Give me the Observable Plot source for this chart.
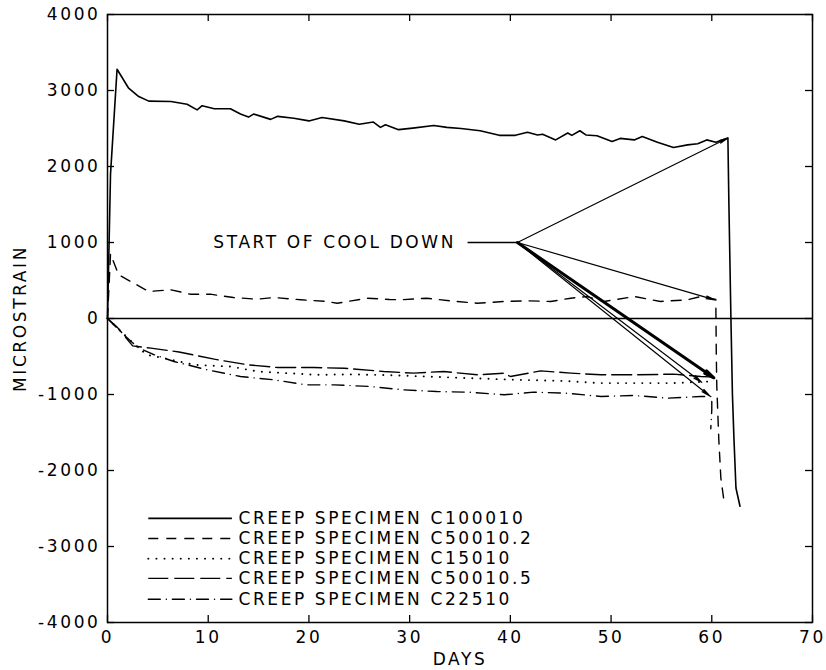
<!DOCTYPE html>
<html>
<head>
<meta charset="utf-8">
<script src="https://cdn.jsdelivr.net/npm/d3@7"></script>
<script src="https://cdn.jsdelivr.net/npm/@observablehq/plot@0.6"></script>
<style>
  html, body { margin: 0; padding: 0; background: #fff; }
  #chart svg text { letter-spacing: 2.6px; }
</style>
</head>
<body>
<div id="chart"></div>
<script>
// Creep strain histories (microstrain vs. days) for five specimens.
const specimens = ["C100010", "C50010.2", "C15010", "C50010.5", "C22510"];

const c100010Days = [0, 0.3, 0.95, 2.1, 3.1, 4.1, 6.3, 7.9, 8.9, 9.4, 10.6, 12.2, 13.2, 14.0, 14.5, 16.2, 16.9, 18.5, 20.0, 21.3, 23.5, 25.0, 26.4, 27.1, 27.6, 28.9, 30.3, 32.4, 33.7, 35.1, 37.0, 38.9, 40.5, 41.7, 42.7, 43.2, 44.5, 45.7, 46.1, 46.9, 47.5, 48.6, 50.1, 50.9, 52.3, 53.1, 54.6, 56.2, 57.6, 58.6, 59.5, 60.4, 61.6, 61.7, 61.9, 62.05, 62.2, 62.4, 62.8];
const c100010Strain = [0, 1900, 3280, 3030, 2920, 2860, 2855, 2820, 2745, 2800, 2760, 2760, 2690, 2650, 2690, 2620, 2660, 2635, 2600, 2645, 2600, 2555, 2585, 2515, 2550, 2485, 2505, 2540, 2515, 2500, 2470, 2410, 2410, 2450, 2415, 2425, 2350, 2440, 2410, 2470, 2415, 2405, 2330, 2370, 2350, 2395, 2320, 2250, 2285, 2300, 2350, 2320, 2375, 1500, 0, -1000, -1575, -2230, -2470];

const c500102Days = [0, 0.3, 1.1, 4.1, 6.3, 8.2, 10.2, 12.5, 14.9, 16.5, 19.2, 21.8, 22.8, 25.8, 28.0, 29.1, 31.7, 34.1, 36.7, 39.4, 41.7, 44.0, 46.0, 47.6, 49.3, 52.3, 54.9, 57.6, 58.9, 60.4, 60.45, 60.5, 60.7, 60.9, 61.2];
const c500102Strain = [0, 850, 575, 355, 378, 320, 320, 276, 254, 276, 246, 224, 201, 267, 250, 246, 267, 232, 201, 224, 232, 224, 267, 289, 224, 289, 224, 246, 289, 250, -500, -900, -1600, -2100, -2390];

const c15010Days = [0, 1.2, 2.6, 3.9, 5.6, 8.6, 12.2, 14.9, 17.8, 20.8, 24.0, 28.0, 32.0, 36.0, 40.7, 45.0, 49.0, 52.3, 56.2, 59.5, 60.1];
const c15010Strain = [0, -150, -330, -478, -522, -609, -632, -697, -719, -741, -735, -745, -765, -785, -807, -820, -850, -850, -850, -830, -840];

const c500105Days = [0, 1.0, 2.5, 4.3, 7.1, 10.6, 13.9, 16.9, 20.5, 23.5, 27.4, 30.4, 33.4, 36.7, 39.4, 40.0, 43.0, 46.0, 49.0, 52.6, 56.2, 58.9, 60.2];
const c500105Strain = [0, -120, -360, -390, -440, -535, -609, -645, -645, -654, -697, -719, -697, -741, -719, -763, -689, -719, -741, -741, -732, -763, -770];

const c22510Days = [0, 1.5, 3.0, 4.5, 6.6, 9.9, 13.2, 16.5, 19.8, 22.5, 26.1, 29.4, 32.7, 36.0, 39.4, 42.3, 45.6, 49.0, 52.3, 55.6, 58.9, 60.0, 60.0, 59.9];
const c22510Strain = [0, -200, -380, -470, -566, -675, -763, -807, -873, -873, -895, -939, -961, -970, -1004, -969, -983, -1026, -1013, -1048, -1026, -1026, -1200, -1450];

// Start of cool down callout: label point and the curve ends the arrows point to.
const coolDownLabel = "START OF COOL DOWN";
const coolDownDay = 40.7;
const coolDownStrain = 1000;
const coolDownLeaderDays = [35.8, 40.7];
const arrowEndDays = [61.6, 60.3, 59.0, 59.8];
const arrowEndStrains = [2375, 245, -840, -1020];
const heavyArrowEndDay = 60.2;
const heavyArrowEndStrain = -780;

// Axis ticks
const xTicks = [0, 10, 20, 30, 40, 50, 60, 70];
const yTicks = [-4000, -3000, -2000, -1000, 0, 1000, 2000, 3000, 4000];
const xDomain = [0, 70];
const yDomain = [-4000, 4000];

// Legend placement (data units) inside the frame
const legendLineDays = [4.1, 12.4];
const legendTextDay = 13.0;
const legendStrains = [-2630, -2895, -3160, -3420, -3695];

// Line styles per specimen
const lineStyles = {
  "C100010":  {strokeWidth: 1.6},
  "C50010.2": {strokeWidth: 1.4, strokeDasharray: "10,8"},
  "C15010":   {strokeWidth: 1.9, strokeDasharray: "0.1,8", strokeLinecap: "round"},
  "C50010.5": {strokeWidth: 1.4, strokeDasharray: "20,6"},
  "C22510":   {strokeWidth: 1.4, strokeDasharray: "12,6,0.1,6", strokeLinecap: "round"}
};

const seriesDays = [c100010Days, c500102Days, c15010Days, c500105Days, c22510Days];
const seriesStrain = [c100010Strain, c500102Strain, c15010Strain, c500105Strain, c22510Strain];

const rows = specimens.flatMap((name, s) =>
  seriesDays[s].map((day, i) => ({name, day, strain: seriesStrain[s][i]})));

const curveMarks = specimens.map(name =>
  Plot.line(rows.filter(d => d.name === name), {x: "day", y: "strain", ...lineStyles[name]}));

const legendMarks = specimens.flatMap((name, i) => [
  Plot.ruleY([legendStrains[i]], {x1: legendLineDays[0], x2: legendLineDays[1], ...lineStyles[name]}),
  Plot.text([`CREEP SPECIMEN ${name}`], {x: legendTextDay, y: legendStrains[i], text: d => d, textAnchor: "start", lineAnchor: "middle"})
]);

const arrows = arrowEndDays.map((d, i) => ({x1: coolDownDay, y1: coolDownStrain, x2: d, y2: arrowEndStrains[i]}));

// Inward tick lengths, in data units (about 7px)
const tickLenY = (yDomain[1] - yDomain[0]) * 7 / 608;
const tickLenX = (xDomain[1] - xDomain[0]) * 7 / 705;

const chart = Plot.plot({
  width: 826,
  height: 670,
  marginTop: 14,
  marginRight: 14,
  marginBottom: 48,
  marginLeft: 107,
  style: {fontFamily: "'DejaVu Sans', sans-serif", fontSize: "17px", color: "#000", background: "#fff"},
  x: {domain: xDomain, ticks: xTicks, tickSize: 0, tickPadding: 8, tickFormat: d => String(d), label: null},
  y: {domain: yDomain, ticks: yTicks, tickSize: 0, tickPadding: 7, tickFormat: d => String(d), label: null},
  marks: [
    Plot.frame({strokeWidth: 1.5}),
    // inward ticks on all four sides
    Plot.ruleX(xTicks, {x: d => d, y1: yDomain[0], y2: yDomain[0] + tickLenY, strokeWidth: 1.3}),
    Plot.ruleX(xTicks, {x: d => d, y1: yDomain[1], y2: yDomain[1] - tickLenY, strokeWidth: 1.3}),
    Plot.ruleY(yTicks, {y: d => d, x1: xDomain[0], x2: xDomain[0] + tickLenX, strokeWidth: 1.3}),
    Plot.ruleY(yTicks, {y: d => d, x1: xDomain[1], x2: xDomain[1] - tickLenX, strokeWidth: 1.3}),
    Plot.ruleY([0], {strokeWidth: 1.3}),
    ...curveMarks,
    // cool-down callout
    Plot.ruleY([coolDownStrain], {x1: coolDownLeaderDays[0], x2: coolDownLeaderDays[1], strokeWidth: 1.3}),
    Plot.text([coolDownLabel], {x: coolDownLeaderDays[0], y: coolDownStrain, text: d => d, textAnchor: "end", lineAnchor: "middle", dx: -12}),
    Plot.arrow(arrows, {x1: "x1", y1: "y1", x2: "x2", y2: "y2", strokeWidth: 1.2, headLength: 11, headAngle: 18, insetEnd: 0}),
    Plot.arrow([{x1: coolDownDay, y1: coolDownStrain, x2: heavyArrowEndDay, y2: heavyArrowEndStrain}], {x1: "x1", y1: "y1", x2: "x2", y2: "y2", strokeWidth: 3, headLength: 5, headAngle: 18, insetEnd: 0}),
    ...legendMarks,
    // axis titles
    Plot.text(["MICROSTRAIN"], {frameAnchor: "left", text: d => d, textAnchor: "middle", dx: -87, rotate: -90}),
    Plot.text(["DAYS"], {frameAnchor: "bottom", text: d => d, dy: 42})
  ]
});

document.getElementById("chart").append(chart);
</script>
</body>
</html>
